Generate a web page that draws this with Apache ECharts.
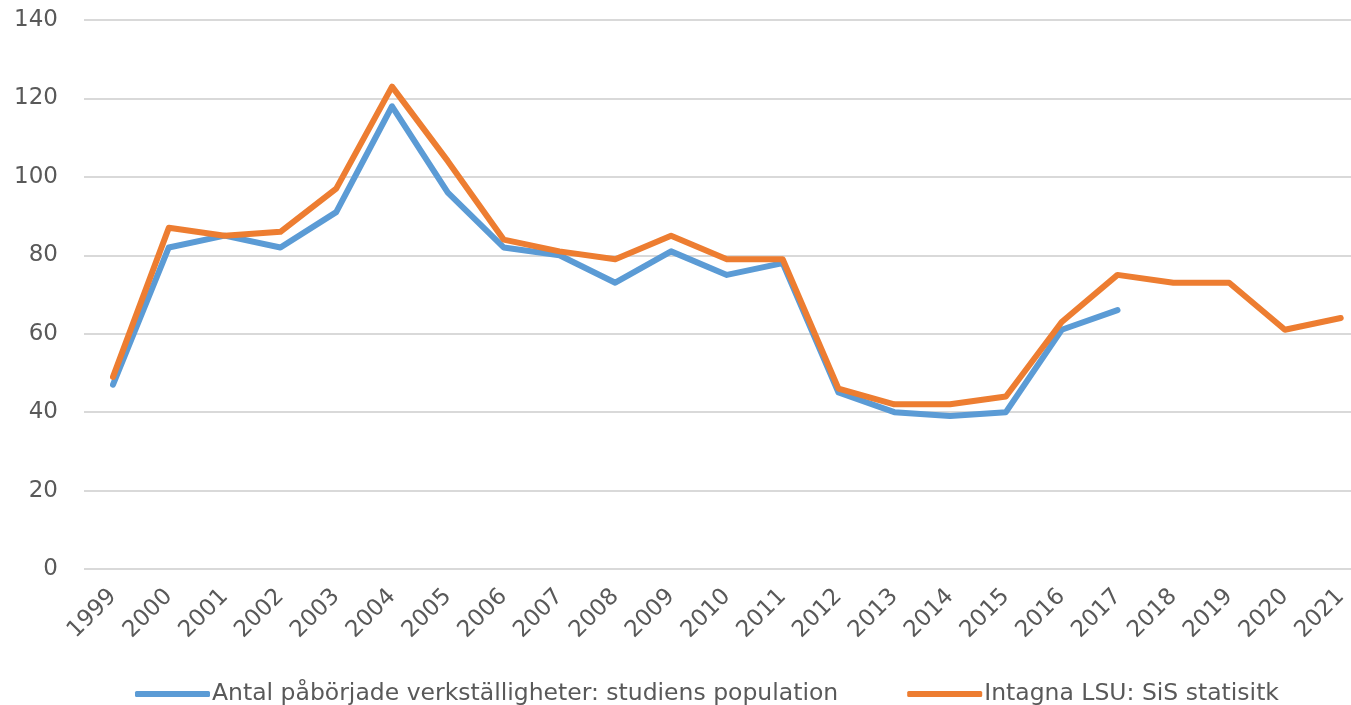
<!DOCTYPE html>
<html>
<head>
<meta charset="utf-8">
<script src="https://cdn.jsdelivr.net/npm/echarts@6/dist/echarts.min.js"></script>
<style>
html,body{margin:0;padding:0;background:#fff;}
#chart{width:1351px;height:705px;}
</style>
</head>
<body>
<div id="chart"></div>
<script>
const years = ['1999','2000','2001','2002','2003','2004','2005','2006','2007','2008','2009','2010','2011','2012','2013','2014','2015','2016','2017','2018','2019','2020','2021'];
const studyPopulation = [47,82,85,82,91,118,96,82,80,73,81,75,78,45,40,39,40,61,66,null,null,null,null];
const sisStatistics = [49,87,85,86,97,123,104,84,81,79,85,79,79,46,42,42,44,63,75,73,73,61,64];
const seriesNames = ['Antal påbörjade verkställigheter: studiens population','Intagna LSU: SiS statisitk'];
const yTicks = {min:0, max:140, interval:20};

const font = "'DejaVu Sans', 'Noto Sans', sans-serif";
const textColor = '#595959';
const chart = echarts.init(document.getElementById('chart'), null, {renderer:'canvas'});
chart.setOption({
  animation:false,
  backgroundColor:'#ffffff',
  grid:[
    {left:84, right:0, top:20, bottom:136, containLabel:false},
    {left:113, right:6, top:20, bottom:136, containLabel:false}
  ],
  legend:{
    left:130, top:677,
    itemWidth:75, itemHeight:6, itemGap:69,
    icon:'roundRect',
    textStyle:{color:textColor, fontSize:23.5, fontFamily:font, padding:[0,0,0,-3]},
    data:seriesNames
  },
  xAxis:[
    {gridIndex:0, type:'value', min:0, max:1, show:false},
    {gridIndex:1, type:'category', data:years, boundaryGap:false,
     axisLine:{show:false}, axisTick:{show:false}, splitLine:{show:false},
     axisLabel:{rotate:45, color:textColor, fontSize:23, fontFamily:font, margin:24, interval:0}}
  ],
  yAxis:[
    {gridIndex:0, type:'value', min:yTicks.min, max:yTicks.max, interval:yTicks.interval,
     axisLine:{show:false}, axisTick:{show:false},
     axisLabel:{color:textColor, fontSize:23, fontFamily:font, margin:26},
     splitLine:{lineStyle:{color:'#d9d9d9', width:2}}},
    {gridIndex:1, type:'value', min:yTicks.min, max:yTicks.max, interval:yTicks.interval,
     show:false, splitLine:{show:false}}
  ],
  series:[
    {name:seriesNames[0], type:'line', xAxisIndex:1, yAxisIndex:1, data:studyPopulation, showSymbol:false, symbol:'none',
     lineStyle:{color:'#5B9BD5', width:6, cap:'round', join:'round'}, itemStyle:{color:'#5B9BD5'}},
    {name:seriesNames[1], type:'line', xAxisIndex:1, yAxisIndex:1, data:sisStatistics, showSymbol:false, symbol:'none',
     lineStyle:{color:'#ED7D31', width:6, cap:'round', join:'round'}, itemStyle:{color:'#ED7D31'}}
  ]
});
</script>
</body>
</html>
